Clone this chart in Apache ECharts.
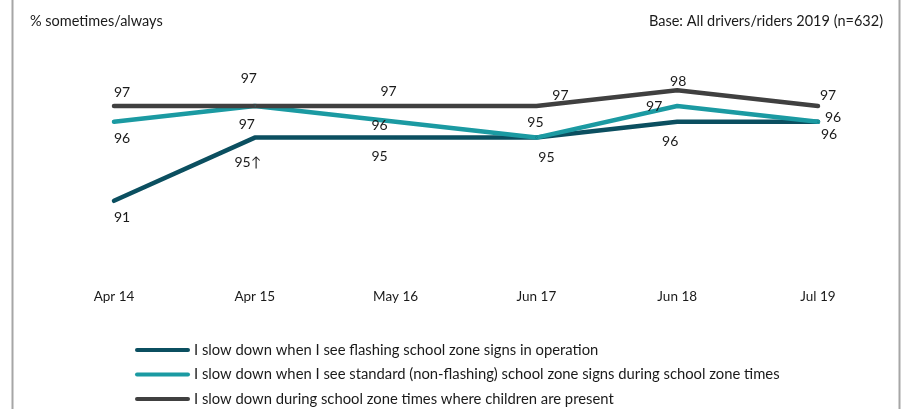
<!DOCTYPE html>
<html>
<head>
<meta charset="utf-8">
<title>School zone speed behaviour</title>
<script src="https://cdn.jsdelivr.net/npm/echarts@6/dist/echarts.min.js"></script>
<style>
  html, body { margin: 0; padding: 0; background: #ffffff; }
  #chart { width: 906px; height: 409px; }
</style>
</head>
<body>
<div id="chart"></div>
<script>
// Survey waves
const waves = ['Apr 14', 'Apr 15', 'May 16', 'Jun 17', 'Jun 18', 'Jul 19'];

// % who slow down sometimes/always
const flashingSigns = [91, 95, 95, 95, 96, 96];
const standardSigns = [96, 97, 96, 95, 97, 96];
const childrenPresent = [97, 97, 97, 97, 98, 97];

// Significance marker appended to a value label
const flashingMarks = ['', '↑', '', '', '', ''];

const seriesNames = [
  'I slow down when I see flashing school zone signs in operation',
  'I slow down when I see standard (non-flashing) school zone signs during school zone times',
  'I slow down during school zone times where children are present'
];

// Label placement (pixels from each point) so the labels don't collide
const flashingOffsets = [[8, 17], [-7, 25], [-16, 19], [10, 20], [-7, 20], [11, 13]];
const standardOffsets = [[8, 17], [-8, 18], [-16, 4], [-1, -15], [-23, 0], [15, -4]];
const childrenOffsets = [[8, -14], [-6, -28], [-7, -15], [24, -11], [1, -9], [10, -11]];

// Legend row centres (px from top)
const legendRows = [349, 373.5, 398];

const FONT = 'Lato, "Open Sans", sans-serif';
const TEXT = '#1a1a1a';

function buildData(values, offsets, marks) {
  return values.map((v, i) => ({
    value: v,
    label: {
      offset: offsets[i],
      formatter: String(v) + (marks ? marks[i] : '')
    }
  }));
}

function makeSeries(name, values, offsets, color, marks) {
  return {
    name: name,
    type: 'line',
    data: buildData(values, offsets, marks),
    symbol: 'circle',
    symbolSize: 2,
    showSymbol: true,
    itemStyle: { color: color },
    lineStyle: { color: color, width: 4.5, cap: 'round', join: 'round' },
    label: {
      show: true,
      position: 'inside',
      align: 'center',
      verticalAlign: 'middle',
      color: TEXT,
      fontFamily: FONT,
      fontSize: 14
    },
    emphasis: { disabled: true },
    silent: true
  };
}

// One single-item legend per row keeps the rows stacked at fixed positions
const legends = seriesNames.map((name, i) => ({
  orient: 'vertical',
  left: 130,
  top: legendRows[i] - 11.5,
  itemWidth: 55,
  itemHeight: 14,
  icon: 'path://M2,0 L53,0 A2,2 0 0 1 53,4 L2,4 A2,2 0 0 1 2,0 Z',
  textStyle: { fontFamily: FONT, fontSize: 14.8, color: TEXT, padding: [0, 0, 0, -1] },
  selectedMode: false,
  data: [name]
}));

const chart = echarts.init(document.getElementById('chart'), null, { renderer: 'canvas' });

chart.setOption({
  animation: false,
  backgroundColor: '#ffffff',
  title: [
    {
      text: '% sometimes/always',
      left: 25,
      top: 9,
      textStyle: { fontFamily: FONT, fontSize: 14.5, fontWeight: 'normal', color: TEXT }
    },
    {
      text: 'Base: All drivers/riders 2019 (n=632)',
      right: 18,
      top: 9,
      textStyle: { fontFamily: FONT, fontSize: 14.5, fontWeight: 'normal', color: TEXT }
    }
  ],
  graphic: [
    { type: 'line', shape: { x1: 12.5, y1: 0, x2: 12.5, y2: 409 }, style: { stroke: '#a6a6a6', lineWidth: 2 }, silent: true },
    { type: 'line', shape: { x1: 899.5, y1: 0, x2: 899.5, y2: 409 }, style: { stroke: '#a6a6a6', lineWidth: 2 }, silent: true }
  ],
  grid: {
    left: 43.6,
    right: 17.6,
    top: 58.6,
    bottom: 129.2
  },
  legend: legends,
  xAxis: {
    type: 'category',
    data: waves,
    boundaryGap: true,
    axisLine: { show: false },
    axisTick: { show: false },
    axisLabel: { color: TEXT, fontFamily: FONT, fontSize: 13.5, margin: 10 },
    splitLine: { show: false }
  },
  yAxis: {
    type: 'value',
    min: 86,
    max: 100,
    show: false,
    splitLine: { show: false }
  },
  series: [
    makeSeries(seriesNames[0], flashingSigns, flashingOffsets, '#0b4f60', flashingMarks),
    makeSeries(seriesNames[1], standardSigns, standardOffsets, '#1b9aa2'),
    makeSeries(seriesNames[2], childrenPresent, childrenOffsets, '#404040')
  ]
});
</script>
</body>
</html>
